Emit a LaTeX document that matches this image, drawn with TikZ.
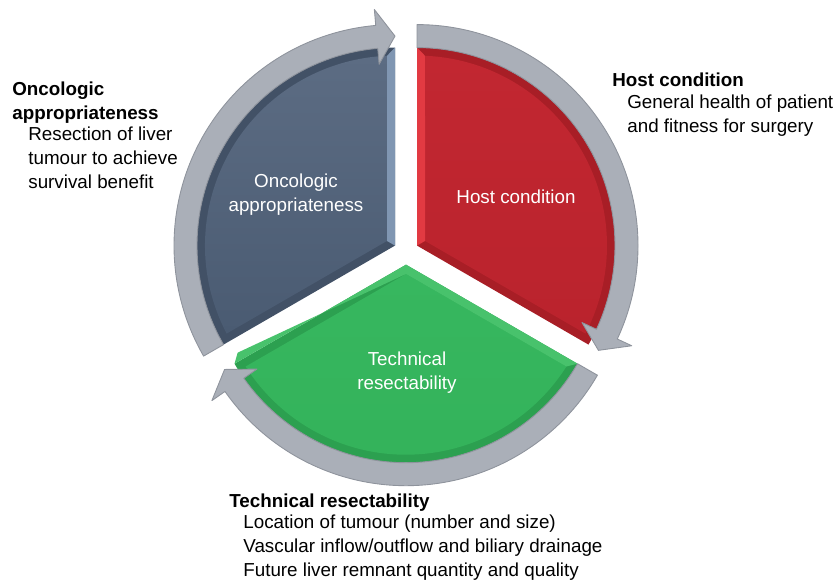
\documentclass[tikz,border=0pt]{standalone}
\usepackage{fontspec}
\setmainfont{Liberation Sans}
\definecolor{ringgrey}{RGB}{170,175,184}
\definecolor{ringedge}{RGB}{142,147,156}
\definecolor{slatedark}{RGB}{66,81,102}
\definecolor{slatemain}{RGB}{74,91,114}
\definecolor{slatetop}{RGB}{92,108,131}
\definecolor{slatelight}{RGB}{128,150,178}
\definecolor{hostdark}{RGB}{168,30,38}
\definecolor{hostmain}{RGB}{186,35,45}
\definecolor{hosttop}{RGB}{194,39,49}
\definecolor{hostlight}{RGB}{226,58,66}
\definecolor{techdark}{RGB}{44,160,80}
\definecolor{techmain}{RGB}{51,178,90}
\definecolor{techtop}{RGB}{55,183,95}
\definecolor{techlight}{RGB}{72,194,108}
\usetikzlibrary{positioning}

\begin{document}
\begin{tikzpicture}[x=0.02cm, y=0.02cm,
    inlabel/.style={text=white, font=\fontsize{10.7}{13.6}\selectfont, align=center},
    headlabel/.style={anchor=base west, inner sep=0pt, font=\fontsize{10.7}{13.6}\selectfont\bfseries},
    desclabel/.style={anchor=north west, inner sep=0pt, align=left, font=\fontsize{10.7}{13.6}\selectfont}]
  \useasboundingbox (0,0) rectangle (834,585);

  % three exploded wedges: vertex x / vertex y / start angle / colours
  \foreach \vx/\vy/\a/\dk/\mn/\tp in {395/339.4/210/slatedark/slatemain/slatetop,
                                      417/339.4/90/hostdark/hostmain/hosttop,
                                      406/320.3/-30/techdark/techmain/techtop}{
    \fill[\dk, shift={(\vx,\vy)}] (0,0) -- (\a:198) arc[start angle=\a, end angle=\a-120, radius=198] -- cycle;
    \shade[top color=\tp, bottom color=\mn, shift={(\vx,\vy)}]
      (\a-60:9.24) -- (\a-2.41:190) arc[start angle=\a-2.41, end angle=\a-117.59, radius=190] -- cycle;
  }
  % lit bevels on the inner edges
  \fill[slatelight, shift={(395,339.4)}] (0,0) -- (90:198) -- (92.41:190) -- (150:9.24) -- cycle;
  \fill[hostlight, shift={(417,339.4)}] (0,0) -- (90:198) -- (87.59:190) -- (30:9.24) -- cycle;
  \fill[techlight, shift={(406,320.3)}] (-30:198) -- (0,0) -- (210:198) -- (207.59:190) -- (270:9.24) -- (-32.41:190) -- cycle;

  % curved grey arrows round each wedge
  \foreach \vx/\vy/\a in {395/339.4/210, 417/339.4/90, 406/320.3/-30}{
    \filldraw[fill=ringgrey, draw=ringedge, line width=0.5pt, line join=round, shift={(\vx,\vy)}]
      (\a:198) arc[start angle=\a, end angle=\a-115, radius=198] -- (\a-115:182) -- (\a-120:209.5)
      -- (\a-115:237) -- (\a-115:221) arc[start angle=\a-115, end angle=\a, radius=221] -- cycle;
  }

  \node[inlabel] (oncoIn) at (296,390) {Oncologic\\appropriateness};
  \node[inlabel] (hostIn) at (516,388) {Host condition};
  \node[inlabel] (techIn) at (407,212) {Technical\\resectability};

  \node[headlabel] (oncoHead) at (12,489) {Oncologic};
  \node[headlabel] (oncoHead2) at (12,465.5) {appropriateness};
  \node[desclabel] (oncoDesc) at (28,458) {Resection of liver\\tumour to achieve\\survival benefit};

  \node[headlabel] (hostHead) at (612,498) {Host condition};
  \node[desclabel] (hostDesc) at (627,490) {General health of patient\\and fitness for surgery};

  \node[headlabel] (techHead) at (229,78) {Technical resectability};
  \node[desclabel] (techDesc) at (243,70) {Location of tumour (number and size)\\Vascular inflow/outflow and biliary drainage\\Future liver remnant quantity and quality};
\end{tikzpicture}
\end{document}
